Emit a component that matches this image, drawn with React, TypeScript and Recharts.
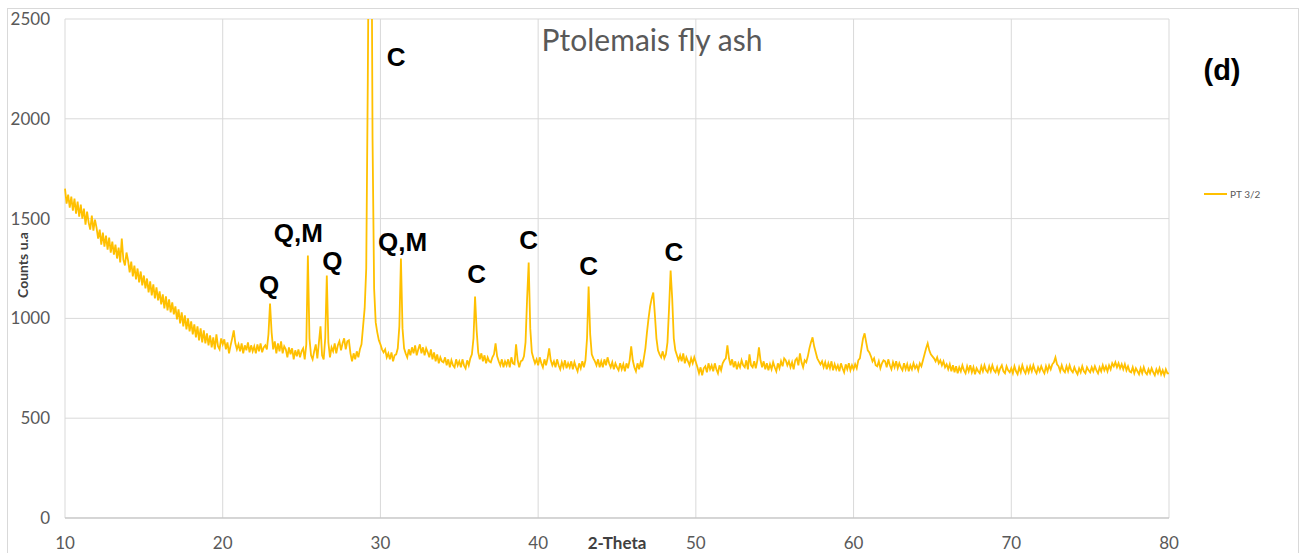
import { LineChart, Line, XAxis, YAxis, CartesianGrid, ReferenceDot } from 'recharts';

const thetaStart = 10;
const thetaStep = 0.1;

const counts: number[] = [
  1650, 1575, 1620, 1555, 1610, 1540, 1600, 1525, 1585, 1510,
  1570, 1500, 1550, 1470, 1535, 1480, 1445, 1515, 1440, 1495,
  1455, 1400, 1445, 1370, 1430, 1360, 1415, 1345, 1405, 1330,
  1385, 1320, 1370, 1300, 1355, 1280, 1400, 1295, 1265, 1330,
  1290, 1230, 1285, 1210, 1265, 1195, 1250, 1180, 1235, 1165,
  1215, 1150, 1200, 1130, 1185, 1115, 1170, 1100, 1155, 1090,
  1135, 1070, 1120, 1050, 1110, 1040, 1095, 1030, 1080, 1020,
  1060, 995, 1045, 975, 1030, 960, 1015, 945, 1000, 935,
  985, 920, 970, 905, 960, 890, 950, 880, 940, 875,
  925, 865, 915, 855, 905, 845, 920, 860, 845, 900,
  870, 895, 845, 880, 825, 865, 900, 940, 875, 845,
  870, 835, 875, 825, 865, 840, 880, 830, 865, 835,
  860, 825, 870, 835, 875, 830, 855, 865, 845, 920,
  1075, 930, 845, 885, 825, 875, 835, 885, 825, 860,
  845, 805, 855, 820, 850, 795, 840, 810, 845, 805,
  835, 850, 795, 870, 1315, 900, 815, 795, 835, 870,
  800, 880, 960, 815, 795, 900, 1215, 880, 805, 855,
  835, 875, 825, 865, 885, 840, 875, 900, 845, 885,
  890, 825, 785, 825, 795, 835, 805, 845, 870, 960,
  1050, 1250, 2200, 3400, 3600, 1900, 1150, 980, 930, 890,
  870, 845, 830, 845, 805, 825, 795, 830, 785, 815,
  820, 850, 960, 1300, 950, 850, 825, 805, 845, 815,
  855, 825, 865, 815, 845, 870, 825, 855, 815, 850,
  830, 805, 845, 795, 830, 785, 820, 775, 805, 785,
  780, 805, 765, 795, 755, 790, 765, 755, 795, 765,
  785, 755, 795, 765, 750, 790, 765, 800, 820, 900,
  1110, 940, 830, 795, 825, 785, 815, 775, 805, 785,
  780, 805, 820, 875, 810, 785, 765, 795, 755, 785,
  765, 795, 755, 805, 775, 770, 870, 790, 755, 785,
  790, 810, 880, 1100, 1280, 950, 830, 800, 775, 795,
  765, 805, 775, 755, 795, 765, 800, 850, 790, 765,
  785, 755, 795, 765, 745, 780, 755, 790, 750, 775,
  755, 785, 745, 780, 755, 735, 775, 750, 785, 755,
  790, 900, 1160, 920, 820, 800, 785, 765, 795, 755,
  785, 755, 795, 765, 805, 775, 755, 780, 745, 775,
  755, 740, 775, 745, 770, 735, 775, 750, 790, 860,
  790, 755, 735, 775, 745, 780, 755, 800, 850, 930,
  1000, 1060, 1100, 1130, 1020, 900, 840, 820, 805, 835,
  800, 820, 880, 1050, 1240, 1100, 900, 840, 815, 790,
  815, 785, 825, 775, 805, 785, 765, 800, 775, 805,
  780, 755, 725, 755, 715, 750, 760, 730, 775, 745,
  765, 735, 775, 745, 725, 765, 740, 775, 790, 800,
  865, 800, 765, 795, 755, 785, 745, 775, 755, 790,
  765, 755, 790, 745, 820, 765, 755, 785, 750, 790,
  855, 790, 755, 785, 745, 775, 740, 770, 745, 780,
  755, 735, 775, 750, 785, 760, 800, 790, 765, 785,
  755, 780, 745, 790, 800, 765, 825, 780, 755, 790,
  780, 810, 850, 880, 905, 860, 830, 800, 785, 770,
  785, 755, 780, 745, 775, 750, 785, 740, 770, 745,
  765, 735, 775, 750, 730, 770, 745, 775, 740, 765,
  745, 770, 750, 790, 800, 850, 900, 925, 880, 840,
  830, 810, 785, 800, 765, 760, 785, 750, 775, 790,
  785, 755, 795, 765, 745, 780, 755, 785, 750, 775,
  755, 740, 775, 745, 770, 735, 765, 745, 775, 750,
  765, 740, 775, 760, 790, 820, 850, 875, 840, 820,
  810, 800, 785, 805, 775, 790, 765, 785, 755, 770,
  745, 770, 735, 765, 730, 760, 725, 755, 735, 765,
  740, 725, 760, 735, 765, 730, 755, 720, 750, 735,
  725, 760, 735, 765, 740, 730, 760, 735, 765, 740,
  730, 755, 725, 750, 765, 735, 725, 760, 740, 730,
  750, 725, 760, 735, 720, 755, 730, 765, 740, 725,
  755, 730, 760, 735, 765, 740, 725, 755, 735, 760,
  740, 725, 760, 735, 765, 745, 770, 780, 805, 770,
  760, 735, 765, 740, 730, 760, 735, 765, 740, 730,
  755, 735, 720, 750, 730, 760, 735, 725, 755, 740,
  730, 755, 735, 760, 740, 725, 755, 735, 765, 740,
  760, 735, 765, 745, 775, 760, 780, 755, 775, 750,
  770, 745, 770, 740, 760, 735, 730, 755, 725, 750,
  735, 720, 750, 725, 755, 730, 720, 745, 725, 750,
  730, 715, 745, 725, 750, 720, 740, 715, 745, 725,
  725,
];

const xTicks = [10, 20, 30, 40, 50, 60, 70, 80];
const yTicks = [0, 500, 1000, 1500, 2000, 2500];

// phase labels: Q quartz, M mullite, C calcite
const peakLabels = ['C', 'Q,M', 'Q', 'Q', 'Q,M', 'C', 'C', 'C', 'C'];
const peakLabelTheta = [31.0, 24.8, 26.95, 22.95, 31.4, 36.1, 39.4, 43.2, 48.6];
const peakLabelCount = [2310, 1428, 1288, 1167, 1383, 1222, 1393, 1263, 1333];

const data = counts.map((c, i) => ({
  theta: Math.round((thetaStart + i * thetaStep) * 10) / 10,
  pt: c,
}));

const GOLD = '#FFC000';
const GRAY = '#595959';

const PeakText = (props: any) => (
  <text
    x={props.cx}
    y={props.cy}
    textAnchor="middle"
    dominantBaseline="central"
    fontFamily="'Liberation Sans', Arial, sans-serif"
    fontWeight="bold"
    fontSize={26}
    fill="#000"
  >
    {props.text}
  </text>
);

export default function App() {
  return (
    <div style={{ position: 'absolute', left: 0, top: 0, width: 1300, height: 553, background: '#fff', overflow: 'hidden', fontFamily: 'Lato, sans-serif' }}>
      <div style={{ position: 'absolute', left: 7, top: 8, width: 1290, height: 580, border: '1px solid #d9d9d9' }} />
      <LineChart width={1300} height={553} data={data} margin={{ top: 19, right: 131, bottom: 0, left: 0 }}>
        <CartesianGrid stroke="#d9d9d9" />
        <XAxis
          dataKey="theta"
          type="number"
          domain={[10, 80]}
          ticks={xTicks}
          height={35}
          tickLine={false}
          tickSize={0}
          tickMargin={19}
          axisLine={{ stroke: '#bfbfbf' }}
          tick={{ fill: GRAY, fontSize: 17, fontFamily: 'Lato, sans-serif' }}
        />
        <YAxis
          type="number"
          domain={[0, 2500]}
          ticks={yTicks}
          allowDataOverflow
          width={65}
          tickLine={false}
          tickSize={0}
          tickMargin={15}
          axisLine={false}
          tick={{ fill: GRAY, fontSize: 17, fontFamily: 'Lato, sans-serif' }}
        />
        <Line
          type="linear"
          dataKey="pt"
          name="PT 3/2"
          stroke={GOLD}
          strokeWidth={1.8}
          dot={false}
          isAnimationActive={false}
        />
        {peakLabels.map((t, i) => (
          <ReferenceDot
            key={i}
            x={peakLabelTheta[i]}
            y={peakLabelCount[i]}
            r={0}
            ifOverflow="visible"
            shape={(p: any) => <PeakText {...p} text={t} />}
          />
        ))}
      </LineChart>
      <div style={{ position: 'absolute', left: 0, top: 255, width: 46, height: 20, transform: 'rotate(-90deg)', transformOrigin: '23px 10px', textAlign: 'center', whiteSpace: 'nowrap', fontSize: 14, fontWeight: 'bold', color: '#404040', lineHeight: '20px' }}>
        <span style={{ display: 'inline-block', marginLeft: -20, marginRight: -20 }}>Counts u.a</span>
      </div>
      <div style={{ position: 'absolute', left: 617, top: 532, transform: 'translateX(-50%)', fontSize: 17, fontWeight: 'bold', color: '#404040', lineHeight: '22px' }}>
        2-Theta
      </div>
      <div style={{ position: 'absolute', left: 652, top: 19, transform: 'translateX(-50%)', fontSize: 30, color: GRAY, lineHeight: '40px', whiteSpace: 'nowrap' }}>
        Ptolemais fly ash
      </div>
      <div style={{ position: 'absolute', left: 1222, top: 52, transform: 'translateX(-50%)', fontSize: 29, fontWeight: 'bold', color: '#000', fontFamily: "'Liberation Sans', Arial, sans-serif", lineHeight: '36px' }}>
        (d)
      </div>
      <div style={{ position: 'absolute', left: 1204, top: 188, display: 'flex', alignItems: 'center', fontSize: 10, color: GRAY }}>
        <span style={{ display: 'inline-block', width: 23, height: 2, background: GOLD, marginRight: 3 }} />
        PT 3/2
      </div>
    </div>
  );
}
